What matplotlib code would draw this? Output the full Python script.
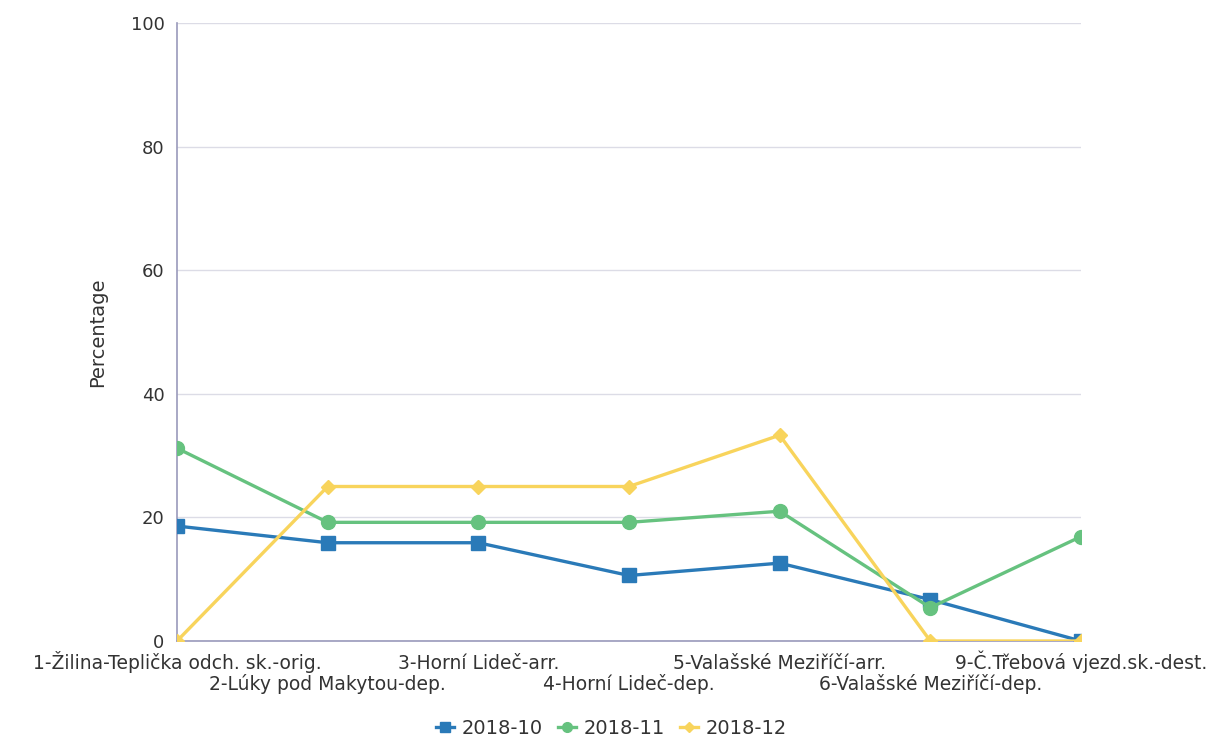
import numpy as np
import matplotlib.pyplot as plt

plt.rcParams['font.family'] = ['DejaVu Sans']

# data
stations = ['1-Žilina-Teplička odch. sk.-orig.', '2-Lúky pod Makytou-dep.',
            '3-Horní Lideč-arr.', '4-Horní Lideč-dep.',
            '5-Valašské Meziříčí-arr.', '6-Valašské Meziříčí-dep.',
            '9-Č.Třebová vjezd.sk.-dest.']
oct_2018 = [18.6, 15.9, 15.9, 10.6, 12.6, 6.7, 0.0]
nov_2018 = [31.2, 19.2, 19.2, 19.2, 21.0, 5.4, 16.9]
dec_2018 = [0.0, 25.0, 25.0, 25.0, 33.3, 0.0, 0.0]
series = ['2018-10', '2018-11', '2018-12']

fig = plt.figure(figsize=(12.23, 7.38), dpi=100)
ax = fig.add_axes([177/1223, 97/738, 904/1223, 618/738])

x = np.arange(len(stations))
ax.plot(x, oct_2018, color='#2a7ab8', lw=2.4, marker='s', ms=10, label=series[0], zorder=3)
ax.plot(x, nov_2018, color='#66c27f', lw=2.4, marker='o', ms=10, label=series[1], zorder=3)
ax.plot(x, dec_2018, color='#f8d45c', lw=2.4, marker='D', ms=7, label=series[2], zorder=3)

ax.set_xlim(0, len(stations) - 1)
ax.set_ylim(0, 100)
ax.set_yticks([0, 20, 40, 60, 80, 100])
ax.grid(axis='y', color='#dcdce6', lw=1)
ax.set_axisbelow(True)

# staggered station labels: even ones on the first row, odd ones below
ax.set_xticks(x[::2])
ax.set_xticklabels(stations[::2])
ax.set_xticks(x[1::2], minor=True)
ax.set_xticklabels(stations[1::2], minor=True)
for lab in ax.get_xticklabels(which='both'):
    lab.set_verticalalignment('baseline')
ax.tick_params(axis='x', which='major', pad=20)
ax.tick_params(axis='x', which='minor', pad=35.5)
ax.tick_params(axis='both', which='both', length=0, labelcolor='#333333')
ax.tick_params(axis='x', which='both', labelsize=13.5)
ax.tick_params(axis='y', pad=9, labelsize=13)

for side in ['top', 'right']:
    ax.spines[side].set_visible(False)
for side in ['left', 'bottom']:
    ax.spines[side].set_color('#9a9abb')
    ax.spines[side].set_linewidth(1.2)
for s in ax.spines.values():
    s.set_zorder(1)

ax.set_ylabel('Percentage', fontsize=14, color='#333333', labelpad=17)

fig.legend(loc='center', bbox_to_anchor=(0.5, 10/738), ncol=3, frameon=False,
           fontsize=14, handlelength=0.9, handletextpad=0.4, columnspacing=0.8,
           markerscale=0.7, labelcolor='#333333')

fig.savefig('out.png', dpi=100)
